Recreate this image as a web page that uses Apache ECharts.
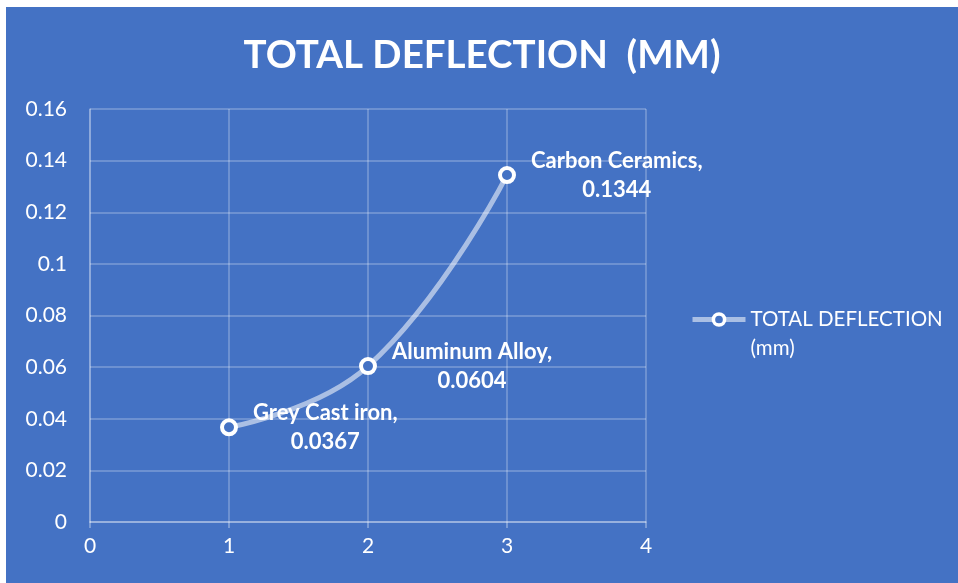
<!DOCTYPE html>
<html>
<head>
<meta charset="utf-8">
<script src="https://cdn.jsdelivr.net/npm/echarts@6/dist/echarts.min.js"></script>
<style>
  html, body { margin: 0; padding: 0; background: #ffffff; }
  #chart { position: absolute; left: 6px; top: 7px; width: 952px; height: 576px; }
</style>
</head>
<body>
<div id="chart"></div>
<script>
// data
const materials = ['Grey Cast iron', 'Aluminum Alloy', 'Carbon Ceramics'];
const xValues = [1, 2, 3];
const deflection = [0.0367, 0.0604, 0.1344];
const seriesName = 'TOTAL DEFLECTION (mm)';

const labelFont = 'Lato';
const labelSize = 22;

// measure the first label line so the two lines can be centred like Excel does
const ctx = document.createElement('canvas').getContext('2d');
ctx.font = 'bold ' + labelSize + 'px ' + labelFont;

const points = xValues.map(function (x, i) {
  const w = ctx.measureText(materials[i] + ',').width;
  return {
    name: materials[i],
    value: [x, deflection[i]],
    label: { offset: [15 + w / 2, 0] }
  };
});

const chart = echarts.init(document.getElementById('chart'));
chart.setOption({
  backgroundColor: '#4472c4',
  animation: false,
  title: {
    text: 'TOTAL DEFLECTION  (MM)',
    left: 'center',
    top: 24,
    textStyle: {
      color: '#ffffff',
      fontFamily: labelFont,
      fontWeight: 'bold',
      fontSize: 38.5
    }
  },
  grid: {
    left: 84,
    right: 312,
    top: 102,
    bottom: 61
  },
  legend: {
    left: 679,
    top: 264,
    itemWidth: 53,
    itemHeight: 14,
    itemGap: 0,
    formatter: function () { return '\nTOTAL DEFLECTION\n(mm)'; },
    itemStyle: { color: '#4472c4', borderColor: '#ffffff', borderWidth: 3.5 },
    lineStyle: { color: 'rgba(255,255,255,0.55)', width: 5 },
    textStyle: {
      color: '#ffffff',
      fontFamily: labelFont,
      fontSize: 20.5,
      lineHeight: 29
    },
    data: [seriesName]
  },
  xAxis: {
    type: 'value',
    min: 0,
    max: 4,
    interval: 1,
    axisLine: { show: true, lineStyle: { color: 'rgba(255,255,255,0.4)', width: 1.5 } },
    axisTick: { show: true, length: 6, lineStyle: { color: 'rgba(255,255,255,0.4)', width: 1.5 } },
    splitLine: { show: true, lineStyle: { color: 'rgba(255,255,255,0.3)', width: 1.5 } },
    axisLabel: { color: '#ffffff', fontFamily: labelFont, fontSize: 21, margin: 14 }
  },
  yAxis: {
    type: 'value',
    min: 0,
    max: 0.16,
    interval: 0.02,
    axisLine: { show: true, lineStyle: { color: 'rgba(255,255,255,0.3)', width: 1.5 } },
    axisTick: { show: false },
    splitLine: { show: true, lineStyle: { color: 'rgba(255,255,255,0.3)', width: 1.5 } },
    axisLabel: { color: '#ffffff', fontFamily: labelFont, fontSize: 21, margin: 23 }
  },
  series: [{
    name: seriesName,
    type: 'line',
    smooth: 0.45,
    symbol: 'circle',
    symbolSize: 14,
    lineStyle: { color: 'rgba(255,255,255,0.55)', width: 5 },
    itemStyle: { color: '#4472c4', borderColor: '#ffffff', borderWidth: 4 },
    label: {
      show: true,
      position: 'right',
      distance: 0,
      align: 'center',
      verticalAlign: 'middle',
      color: '#ffffff',
      fontFamily: labelFont,
      fontWeight: 'bold',
      fontSize: labelSize,
      lineHeight: 29,
      formatter: function (p) { return p.name + ',\n' + p.value[1]; }
    },
    data: points
  }]
});
</script>
</body>
</html>
